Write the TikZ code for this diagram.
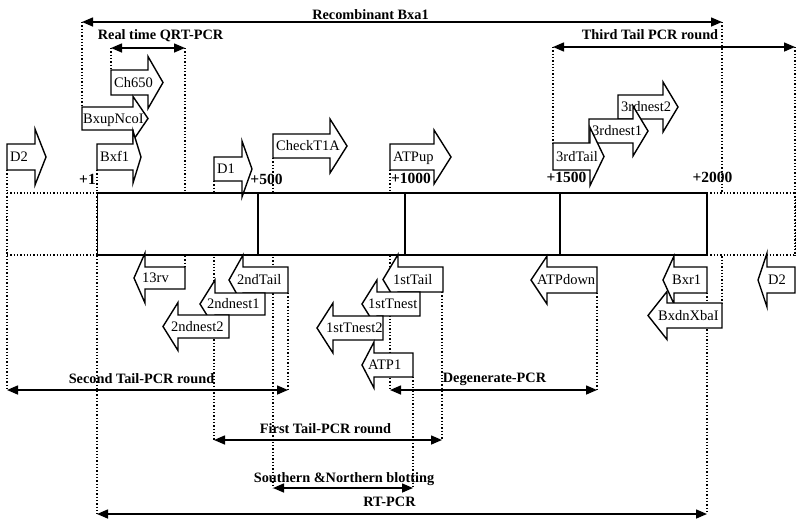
\documentclass[tikz,border=0pt]{standalone}
\usepackage{fontspec}
\setmainfont{Liberation Serif}
\usetikzlibrary{arrows.meta}
% right-pointing block arrow: name, textx, x1, x2(head base), xtip, ytop, ybot, headhalf, text
\newcommand\RArr[9]{%
  \draw[blk] (#3,#6) -- (#4,#6) -- (#4,{(#6+#7)/2-#8}) -- (#5,{(#6+#7)/2})
    -- (#4,{(#6+#7)/2+#8}) -- (#4,#7) -- (#3,#7) -- cycle;
  \node[lbl] (#1) at (#2,{(#6+#7)/2+4.8}) {#9};}
% left-pointing block arrow: name, textx, xtip, xh(head base), x2, ytop, ybot, headhalf, text
\newcommand\LArr[9]{%
  \draw[blk] (#5,#6) -- (#4,#6) -- (#4,{(#6+#7)/2-#8}) -- (#3,{(#6+#7)/2})
    -- (#4,{(#6+#7)/2+#8}) -- (#4,#7) -- (#5,#7) -- cycle;
  \node[lbl] (#1) at (#2,{(#6+#7)/2+4.8}) {#9};}
\begin{document}
\begin{tikzpicture}[x=1pt,y=-1pt,
  blk/.style={draw=black,fill=white,line width=1.4pt,line join=miter},
  lbl/.style={inner sep=0pt,anchor=base west,font=\fontsize{14.5}{16}\selectfont},
  ttl/.style={inner sep=0pt,anchor=base,font=\bfseries\fontsize{14.3}{16}\selectfont},
  num/.style={inner sep=0pt,anchor=base,font=\bfseries\fontsize{15.5}{17}\selectfont},
  dim/.style={line width=1.5pt,{Triangle[length=11pt,width=9pt]}-{Triangle[length=11pt,width=9pt]}},
  dot/.style={line width=1.3pt,dotted},
  box/.style={line width=1.5pt}]
\useasboundingbox (0,0) rectangle (800,528);
% dotted guide lines
\draw[dot] (82,22) -- (82,107);
\draw[dot] (111,48) -- (111,70);
\draw[dot] (185,48) -- (185,267);
\draw[dot] (214,181) -- (214,440);
\draw[dot] (273,158) -- (273,488);
\draw[dot] (288,293) -- (288,390);
\draw[dot] (390,170) -- (390,390);
\draw[dot] (413,377) -- (413,488);
\draw[dot] (442,292) -- (442,440);
\draw[dot] (553,47) -- (553,143);
\draw[dot] (597,293) -- (597,390);
\draw[dot] (707,293) -- (707,514);
\draw[dot] (722,22) -- (722,303);
\draw[dot] (795,47) -- (795,255);
\draw[dot] (7,170) -- (7,390);
% gene map
\fill[white] (7,193) rectangle (795,255);
\draw[dot] (7,193) -- (97,193) (7,255) -- (97,255);
\draw[dot] (707,193) -- (795,193) (707,255) -- (795,255);
\draw[dot] (7,193) -- (7,255) (795,193) -- (795,255);
\draw[dot] (97,170) -- (97,514);
\draw[box] (97,193) -- (707,193) -- (707,255) -- (97,255);
\draw[line width=0.6pt] (97,193) -- (97,255);
\draw[box] (258,193) -- (258,255) (405,193) -- (405,255) (560,193) -- (560,255);
% forward primers
\RArr{d2l}{10}{7}{35}{46}{144}{170}{28}{D2}
\RArr{ch650}{114}{111}{148}{163}{70}{95}{26}{Ch650}
\RArr{bxup}{83}{82}{133}{148}{107}{130}{22}{BxupNcoI}
\RArr{bxf}{100}{97}{133}{141}{144}{170}{26}{Bxf1}
\RArr{d1}{217}{214}{242}{252}{157}{181}{28}{D1}
\RArr{check}{276}{273}{330}{347}{134}{158}{27}{CheckT1A}
\RArr{atpup}{393}{390}{434}{451}{144}{170}{27}{ATPup}
\RArr{thirdnestb}{621}{618}{663}{678}{95}{119}{25}{3rdnest2}
\RArr{thirdnesta}{592}{589}{633}{648}{119}{143}{25}{3rdnest1}
\RArr{thirdtail}{556}{553}{590}{604}{143}{170}{29}{3rdTail}
% reverse primers
\LArr{rv}{142}{134}{145}{185}{267}{289}{25}{13rv}
\LArr{sndtail}{237}{229}{243}{288}{267}{293}{25}{2ndTail}
\LArr{sndnesta}{207}{200}{215}{265}{293}{315}{24}{2ndnest1}
\LArr{sndnestb}{171}{163}{178}{229}{315}{338}{24}{2ndnest2}
\LArr{fsttail}{393}{383}{398}{443}{267}{292}{25}{1stTail}
\LArr{fstnesta}{368}{362}{377}{420}{292}{316}{24}{1stTnest}
\LArr{fstnestb}{326}{317}{333}{383}{316}{340}{25}{1stTnest2}
\LArr{atpone}{368}{362}{374}{413}{353}{377}{23}{ATP1}
\LArr{atpdown}{537}{531}{547}{597}{267}{293}{24}{ATPdown}
\LArr{bxr}{672}{663}{674}{707}{267}{293}{24}{Bxr1}
\LArr{bxdn}{658}{648}{667}{722}{303}{328}{24}{BxdnXbaI}
\LArr{d2r}{768}{758}{767}{795}{267}{293}{27}{D2}
% positions
\node[num] (p1) at (87.5,184) {+1};
\node[num] (p500) at (266.5,184) {+500};
\node[num] (p1000) at (411,183) {+1000};
\node[num] (p1500) at (566.5,182) {+1500};
\node[num] (p2000) at (712.5,182) {+2000};
% ranges
\coordinate (rbL) at (82,22);   \coordinate (rbR) at (722,22);
\coordinate (qL) at (111,48);   \coordinate (qR) at (185,48);
\coordinate (tL) at (553,47);   \coordinate (tR) at (795,47);
\coordinate (sL) at (7,390);    \coordinate (sR) at (288,390);
\coordinate (dL) at (390,390);  \coordinate (dR) at (597,390);
\coordinate (fL) at (214,440);  \coordinate (fR) at (442,440);
\coordinate (nL) at (273,488);  \coordinate (nR) at (413,488);
\coordinate (rL) at (97,514);   \coordinate (rR) at (707,514);
\draw[dim] (rbL) -- (rbR);
\draw[dim] (qL) -- (qR);
\draw[dim] (tL) -- (tR);
\draw[dim] (sL) -- (sR);
\draw[dim] (dL) -- (dR);
\draw[dim] (fL) -- (fR);
\draw[dim] (nL) -- (nR);
\draw[dim] (rL) -- (rR);
\node[ttl] (trb) at (370.5,19) {Recombinant Bxa1};
\node[ttl] (tq) at (160.5,39) {Real time QRT-PCR};
\node[ttl] (tt) at (650,39) {Third Tail PCR round};
\node[ttl] (ts) at (141.5,383) {Second Tail-PCR round};
\node[ttl] (td) at (494.5,382) {Degenerate-PCR};
\node[ttl] (tf) at (325.5,433) {First Tail-PCR round};
\node[ttl] (tn) at (344,482) {Southern \&Northern blotting};
\node[ttl] (tr) at (389.5,506) {RT-PCR};
\end{tikzpicture}
\end{document}
